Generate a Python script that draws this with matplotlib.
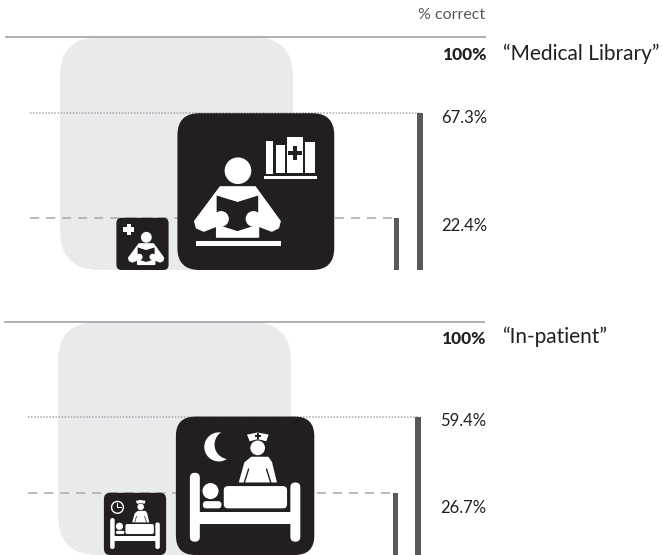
import matplotlib
matplotlib.use("Agg")
import matplotlib.pyplot as plt
from matplotlib.patches import Circle, FancyBboxPatch, Polygon, Rectangle
from matplotlib.transforms import Affine2D

# values
panel_names = ["\u201cMedical Library\u201d", "\u201cIn-patient\u201d"]
full_value = 100
high_values = [67.3, 59.4]
low_values = [22.4, 26.7]

W, H = 662, 555
PX = 2.33  # pixels per percent point

INK = "#231f20"
GREY = "#e9eaec"
BAR = "#58595b"
RULE = "#a7a9ac"
FONT = ["Lato", "DejaVu Sans"]


def cross(cx, cy, arm, thick, color, tr, ax, z):
    ax.add_patch(Rectangle((cx - arm, cy - thick), 2 * arm, 2 * thick, fc=color, ec="none", transform=tr, zorder=z))
    ax.add_patch(Rectangle((cx - thick, cy - arm), 2 * thick, 2 * arm, fc=color, ec="none", transform=tr, zorder=z))


def person(ax, tr, z):
    ax.add_patch(Circle((38.6, 63.3), 8.5, fc="white", ec="none", transform=tr, zorder=z))
    body = [(27.3, 53), (49.6, 53), (65.5, 31.1), (64.4, 26.9), (60.2, 24.8), (51.7, 28), (51.7, 21),
            (25, 21), (25, 28), (16.8, 24.8), (12.1, 26.9), (11, 31.1)]
    ax.add_patch(Polygon(body, closed=True, fc="white", ec="white", lw=1, joinstyle="round", transform=tr, zorder=z))
    book = [(25, 47.5), (38.3, 43.4), (51.5, 47.5), (51.5, 29), (38.3, 24.8), (25, 29)]
    ax.add_patch(Polygon(book, closed=True, fc=INK, ec="none", transform=tr, zorder=z + 0.1))
    for hx in (27.8, 48.5):
        ax.add_patch(Circle((hx, 32.6), 5, fc="white", ec="none", transform=tr, zorder=z + 0.2))


def library_icon(ax, x0, side, big):
    tr = Affine2D().scale(side / 100).translate(x0, 0) + ax.transData
    ax.add_patch(FancyBboxPatch((0, 0), 100, 100, boxstyle="round,pad=0,rounding_size=14" if big else "round,pad=0,rounding_size=10",
                                fc=INK, ec="none", transform=tr, zorder=3))
    if big:
        person(ax, tr, 4)
        ax.add_patch(Rectangle((12.1, 15), 54, 3.2, fc="white", ec="none", transform=tr, zorder=4))
        ax.add_patch(Rectangle((55.3, 58.3), 33.7, 1.9, fc="white", ec="none", transform=tr, zorder=4))
        for bx, bw, bh, by in [(56.6, 4.4, 21, 61.4), (62.9, 6, 17.8, 62.1), (70.1, 9.8, 22.6, 62.1), (81.1, 6.6, 19.7, 62.1)]:
            ax.add_patch(Rectangle((bx, by), bw, bh, fc="white", ec="none", transform=tr, zorder=4))
        cross(75, 74.6, 4.2, 1.5, INK, tr, ax, 5)
    else:
        tr2 = Affine2D().translate(-38.3, -21).scale(1.226).translate(57, 10.8) + tr
        person(ax, tr2, 4)
        cross(23.6, 77.7, 11, 4, "white", tr, ax, 4)


def ward_icon(ax, x0, side, big):
    tr = Affine2D().scale(side / 100).translate(x0, 0) + ax.transData
    ax.add_patch(FancyBboxPatch((0, 0), 100, 100, boxstyle="round,pad=0,rounding_size=14" if big else "round,pad=0,rounding_size=10",
                                fc=INK, ec="none", transform=tr, zorder=3))
    white = dict(fc="white", ec="none", transform=tr, zorder=4)
    # bed
    ax.add_patch(FancyBboxPatch((10.1, 9.6), 7.2, 49.8, boxstyle="round,pad=0,rounding_size=3.5", **white))
    ax.add_patch(FancyBboxPatch((82.7, 9.6), 7.2, 42.8, boxstyle="round,pad=0,rounding_size=3.5", **white))
    ax.add_patch(Rectangle((17, 22.1), 66, 8.7, **white))
    ax.add_patch(Circle((25, 46.2), 5.8, **white))
    ax.add_patch(FancyBboxPatch((19.5, 33.7), 13.4, 5.2, boxstyle="round,pad=0,rounding_size=2.4", **white))
    ax.add_patch(FancyBboxPatch((34.6, 33.7), 45.7, 16.1, boxstyle="round,pad=0,rounding_size=3", **white))
    # nurse
    ax.add_patch(Circle((59.1, 77.4), 5.3, **white))
    nurse = [(54.5, 71), (66.8, 71), (69.5, 67), (73, 52.4), (45.4, 52.4), (49.5, 67)]
    ax.add_patch(Polygon(nurse, closed=True, **white))
    for lx0, lx1 in [(52.5, 49.5), (65.5, 68.5)]:
        ax.plot([lx0, lx1], [62, 52.4], color=INK, lw=1.0 if big else 0.5, transform=tr, zorder=5)
    cap = [(51.4, 87), (59.1, 88.5), (67, 87), (65.3, 82.2), (59.1, 83.7), (53.3, 82.2)]
    ax.add_patch(Polygon(cap, closed=True, **white))
    if big:
        cross(59.1, 86, 2.3, 0.8, INK, tr, ax, 5)
        ax.add_patch(Circle((31, 78.1), 10.5, **white))
        ax.add_patch(Circle((38.5, 79.8), 10.6, fc=INK, ec="none", transform=tr, zorder=4.1))
    else:
        ax.add_patch(Circle((21.8, 76.6), 9.5, fc="none", ec="white", lw=1, transform=tr, zorder=4))
        ax.plot([21.8, 21.8, 27.5], [83, 76.6, 76.6], color="white", lw=0.7, transform=tr, zorder=4)


def draw_panel(fig, i, px_left, px_base, icon, big_x, small_x, bar_x, rule_end, label_y, name_x, name_y):
    ax = fig.add_axes([0, 0, 1, 1], facecolor="none")
    ax.set_xlim(-px_left / PX, (W - px_left) / PX)
    ax.set_ylim((px_base - H) / PX, px_base / PX)
    ax.axis("off")

    high, low = high_values[i], low_values[i]
    ax.add_patch(FancyBboxPatch((0, 0), full_value, full_value, boxstyle="round,pad=0,rounding_size=17",
                                fc=GREY, ec="none", zorder=1))
    ax.plot(rule_end, [full_value, full_value], color=RULE, lw=1.3, zorder=2)
    ax.plot([-13, bar_x[0]], [high, high], color=RULE, lw=1.1, ls=(0, (1, 1)), zorder=2)
    ax.plot([-13, bar_x[1]], [low, low], color=RULE, lw=1.1, ls=(0, (6, 4.5)), zorder=2)
    ax.bar(bar_x, [high, low], width=2.2, color=BAR, zorder=2)

    icon(ax, big_x, high, True)
    icon(ax, small_x, low, False)

    tx = (rule_end[1] * PX + 2) / PX
    ax.text(tx, label_y[0], "%d%%" % full_value, ha="right", va="center", fontsize=12.5, fontweight=900,
            color=INK, family=FONT)
    ax.text(tx, label_y[1], "%.1f%%" % high, ha="right", va="center", fontsize=12, color=INK, family=FONT)
    ax.text(tx, label_y[2], "%.1f%%" % low, ha="right", va="center", fontsize=12, color=INK, family=FONT)
    ax.text(name_x, name_y, panel_names[i], ha="left", va="center", fontsize=15, color=INK, family=FONT)
    return ax


fig = plt.figure(figsize=(W / 100, H / 100), dpi=100, facecolor="white")

top = draw_panel(fig, 0, 60, 270, library_icon, 50.4, 24.2, [154.5, 144.3], [-23.2, 182.4],
                 [92.2, 65.3, 18.8], 190, 92.7)
draw_panel(fig, 1, 58, 555, ward_icon, 50.6, 19.7, [154.5, 144.7], [-22.7, 183],
           [92.8, 57.5, 20.3], 191, 93.6)

top.text(182.4, 109.4, "% correct", ha="right", va="center", fontsize=11.5, color="#58595b", family=FONT)

fig.savefig("out.png", dpi=100)
